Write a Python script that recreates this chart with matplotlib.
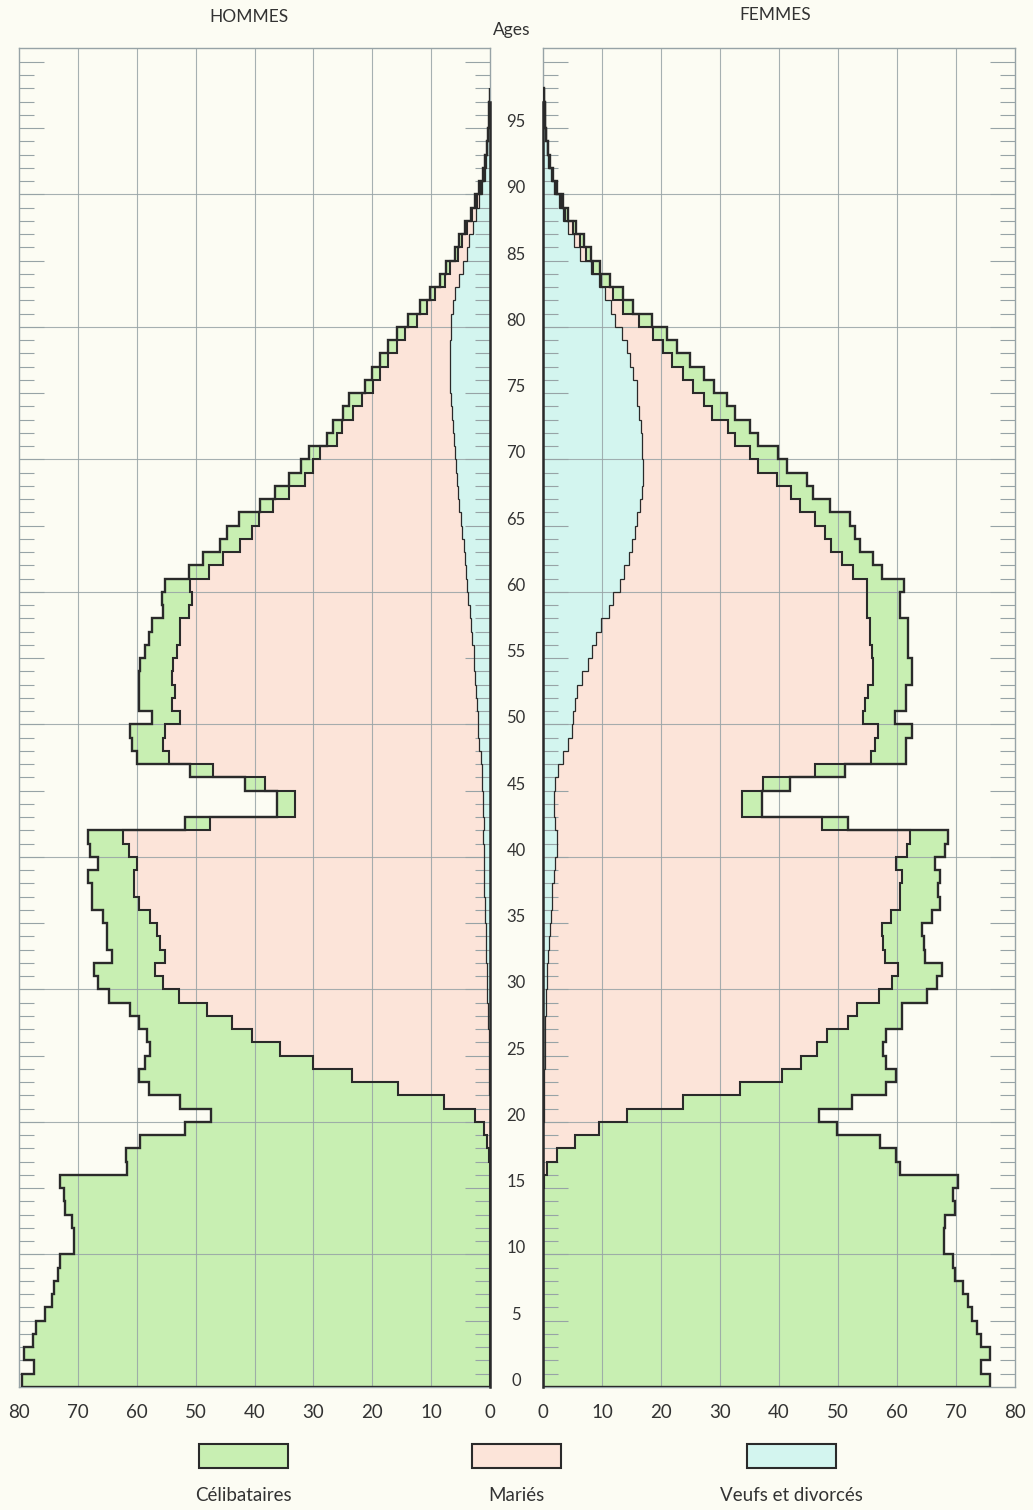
import numpy as np
import matplotlib.pyplot as plt
from matplotlib.patches import Rectangle
from matplotlib.transforms import blended_transform_factory

plt.rcParams['font.family'] = ['Lato', 'DejaVu Sans']

# Ages 0 .. 97 (one bar per year of age)
ages = np.arange(0, 99)

# HOMMES : limite extérieure (total), limite mariés+veufs, limite veufs
hommes_total = [
    79.5, 77.5, 79.1, 77.7, 77.1, 75.6, 74.4, 74.1, 73.3, 73.0,
    70.6, 70.7, 71.0, 72.2, 72.4, 73.1, 61.7, 61.8, 59.4, 51.8,
    47.4, 52.6, 58.0, 59.7, 58.6, 57.7, 58.3, 59.7, 61.1, 64.8,
    66.5, 67.2, 64.2, 65.1, 65.1, 65.7, 67.6, 67.6, 68.2, 66.5,
    67.9, 68.2, 51.8, 36.2, 36.2, 41.6, 50.9, 60.0, 60.8, 61.1,
    57.4, 59.7, 59.7, 59.7, 59.4, 58.6, 58.0, 57.4, 55.5, 55.7,
    55.2, 51.2, 48.7, 45.8, 44.7, 42.6, 39.0, 36.5, 34.2, 32.1,
    30.8, 27.7, 26.7, 25.0, 23.9, 21.2, 20.1, 18.7, 17.3, 15.8,
    13.9, 11.9, 10.2, 8.5, 7.4, 6.0, 5.2, 4.2, 3.3, 2.5,
    1.8, 1.2, 0.9, 0.6, 0.4, 0.25, 0.15, 0.08]
hommes_maries_veufs = [
    0, 0, 0, 0, 0, 0, 0, 0, 0, 0,
    0, 0, 0, 0, 0, 0, 0, 0.2, 0.6, 1.1,
    2.5, 7.9, 15.7, 23.5, 30.0, 35.7, 40.5, 43.9, 48.1, 52.9,
    55.5, 56.9, 55.2, 56.1, 56.6, 57.8, 59.7, 60.5, 60.5, 60.0,
    61.4, 62.3, 47.5, 33.1, 33.1, 38.2, 47.0, 54.6, 55.5, 55.2,
    52.6, 54.0, 53.5, 54.0, 53.8, 53.2, 52.6, 52.6, 51.2, 50.6,
    50.9, 47.8, 45.3, 42.4, 40.5, 39.3, 36.8, 34.2, 31.4, 30.0,
    28.9, 26.0, 25.2, 23.2, 21.8, 19.8, 18.7, 17.3, 15.8, 14.4,
    12.4, 10.7, 9.3, 7.6, 6.8, 5.5, 4.8, 3.9, 3.0, 2.3,
    1.6, 1.1, 0.8, 0.55, 0.35, 0.22, 0.13, 0.07]
hommes_veufs = [
    0, 0, 0, 0, 0, 0, 0, 0, 0, 0,
    0, 0, 0, 0, 0, 0, 0, 0.02, 0.03, 0.05,
    0.06, 0.08, 0.1, 0.12, 0.15, 0.2, 0.25, 0.3, 0.35, 0.45,
    0.55, 0.6, 0.65, 0.7, 0.75, 0.85, 0.9, 0.95, 1.0, 1.05,
    1.1, 1.15, 1.1, 1.2, 1.25, 1.35, 1.45, 1.6, 1.8, 2.0,
    2.1, 2.3, 2.4, 2.6, 2.7, 2.8, 3.0, 3.2, 3.4, 3.7,
    4.0, 4.1, 4.3, 4.5, 4.7, 5.0, 5.2, 5.4, 5.6, 5.8,
    6.0, 6.1, 6.3, 6.5, 6.6, 6.8, 6.8, 6.8, 6.8, 6.7,
    6.6, 6.3, 5.9, 5.3, 4.6, 4.0, 3.5, 2.9, 2.4, 1.8,
    1.3, 0.9, 0.65, 0.45, 0.3, 0.18, 0.1, 0.06]

# FEMMES
femmes_total = [
    75.8, 74.3, 75.8, 74.3, 73.5, 72.7, 72.1, 71.2, 69.8, 69.5,
    68.0, 68.0, 68.1, 69.8, 69.5, 70.4, 60.5, 59.9, 57.1, 49.8,
    46.8, 52.3, 58.2, 59.9, 58.2, 57.7, 58.2, 60.8, 60.8, 65.0,
    66.7, 67.6, 64.7, 64.5, 64.2, 65.9, 67.3, 67.0, 67.2, 66.4,
    68.1, 68.7, 51.7, 37.1, 37.1, 41.9, 51.2, 61.6, 61.6, 62.5,
    59.7, 61.6, 61.6, 62.5, 62.5, 61.9, 61.9, 61.9, 60.5, 60.5,
    61.1, 57.5, 56.0, 53.7, 52.9, 52.0, 48.6, 45.8, 44.7, 41.3,
    39.9, 36.5, 35.1, 32.5, 31.1, 28.9, 27.2, 24.9, 22.7, 21.0,
    18.4, 15.3, 13.6, 11.3, 9.7, 8.2, 7.0, 5.6, 4.2, 3.4,
    2.3, 1.7, 1.1, 0.85, 0.55, 0.4, 0.3, 0.15]
femmes_mariees_veuves = [
    0, 0, 0, 0, 0, 0, 0, 0, 0, 0,
    0, 0, 0, 0, 0, 0.1, 0.7, 2.3, 5.4, 9.4,
    14.3, 23.7, 33.4, 40.5, 43.8, 46.4, 48.1, 51.7, 53.2, 56.9,
    59.1, 60.2, 57.9, 57.7, 57.4, 58.9, 60.5, 60.5, 60.8, 59.9,
    61.7, 62.2, 47.2, 33.7, 33.7, 37.3, 46.1, 55.6, 56.3, 56.8,
    54.3, 54.6, 55.1, 56.0, 56.0, 55.7, 55.4, 55.4, 54.9, 54.9,
    54.9, 52.5, 50.6, 48.8, 47.8, 46.1, 43.6, 42.0, 39.6, 36.5,
    35.1, 32.5, 31.4, 28.6, 27.2, 25.5, 23.8, 21.8, 20.4, 18.6,
    16.2, 13.6, 11.9, 9.9, 8.5, 7.2, 6.2, 5.0, 3.8, 3.1,
    2.1, 1.55, 1.0, 0.78, 0.5, 0.37, 0.27, 0.14]
femmes_veuves = [
    0, 0, 0, 0, 0, 0, 0, 0, 0, 0,
    0, 0, 0, 0, 0, 0.01, 0.02, 0.03, 0.05, 0.07,
    0.1, 0.12, 0.15, 0.2, 0.25, 0.3, 0.35, 0.4, 0.45, 0.55,
    0.65, 0.75, 0.85, 1.0, 1.1, 1.3, 1.45, 1.6, 1.8, 2.0,
    2.3, 2.4, 2.0, 1.8, 1.8, 2.0, 2.6, 3.4, 4.3, 4.9,
    5.1, 5.4, 5.8, 6.6, 7.7, 8.3, 9.0, 9.9, 11.1, 11.9,
    13.1, 13.7, 14.5, 15.0, 15.6, 16.0, 16.4, 16.7, 16.9, 16.9,
    16.8, 16.7, 16.6, 16.3, 16.0, 15.9, 15.3, 14.7, 14.2, 13.3,
    12.2, 11.6, 10.5, 9.4, 8.2, 6.2, 5.3, 4.3, 3.3, 2.7,
    1.9, 1.4, 0.9, 0.7, 0.45, 0.33, 0.25, 0.12]

legend_labels = ['Célibataires', 'Mariés', 'Veufs et divorcés']
x_ticks = [0, 10, 20, 30, 40, 50, 60, 70, 80]

# couleurs
bg = '#fcfcf3'
green = '#c8efb2'
pink = '#fce4d9'
cyan = '#d3f5ef'
ink = '#2a2a2a'
gridc = '#97a3a6'
textc = '#333333'

fig = plt.figure(figsize=(10.33, 15.10), dpi=100, facecolor=bg)
ax_h = fig.add_axes([0.0184, 0.0815, 0.456, 0.8868])
ax_f = fig.add_axes([0.5257, 0.0815, 0.4569, 0.8868])


def draw_side(ax, total, non_celib, veufs):
    total = np.array(total)
    non_celib = np.array(non_celib)
    veufs = np.array(veufs)
    ax.set_facecolor(bg)
    # surfaces
    ax.stairs(veufs, ages, baseline=0, fill=True, orientation='horizontal',
              facecolor=cyan, linewidth=0, zorder=1)
    ax.stairs(non_celib, ages, baseline=veufs, fill=True, orientation='horizontal',
              facecolor=pink, linewidth=0, zorder=1)
    ax.stairs(total, ages, baseline=non_celib, fill=True, orientation='horizontal',
              facecolor=green, linewidth=0, zorder=1)
    # grille
    for v in range(10, 80, 10):
        ax.axvline(v, color=gridc, lw=0.8, alpha=0.85, zorder=2)
    for a in range(10, 100, 10):
        ax.axhline(a, color=gridc, lw=0.8, alpha=0.85, zorder=2)
    # contours
    ax.stairs(veufs, ages, baseline=None, orientation='horizontal',
              color=ink, lw=0.9, zorder=3)
    ax.stairs(non_celib, ages, baseline=None, orientation='horizontal',
              color=ink, lw=1.5, zorder=3)
    ax.stairs(total, ages, baseline=0, orientation='horizontal',
              color=ink, lw=1.7, zorder=3)
    ax.plot([0, 0], [0, 97], color=ink, lw=1.8, zorder=4, clip_on=False)

    ax.set_ylim(0, 101.05)
    ax.set_yticks(range(5, 101, 5))
    ax.set_yticks([a for a in range(1, 101) if a % 5], minor=True)
    ax.tick_params(axis='y', which='both', direction='in', left=True, right=True,
                   labelleft=False, labelright=False, color=gridc, width=0.8)
    ax.tick_params(axis='y', which='major', length=18)
    ax.tick_params(axis='y', which='minor', length=11)
    ax.set_xticks(x_ticks)
    ax.tick_params(axis='x', length=0, pad=12, labelsize=13.5, labelcolor=textc)
    for s in ax.spines.values():
        s.set_color(gridc)
        s.set_linewidth(1.0)


draw_side(ax_h, hommes_total, hommes_maries_veufs, hommes_veufs)
ax_h.set_xlim(80, 0)
draw_side(ax_f, femmes_total, femmes_mariees_veuves, femmes_veuves)
ax_f.set_xlim(0, 80)

# âges au centre
tr = blended_transform_factory(fig.transFigure, ax_h.transData)
for a in range(0, 100, 5):
    fig.text(0.4995, a + 0.45, str(a), transform=tr, ha='center', va='center',
             fontsize=12, color=textc)

fig.text(0.241, 0.9887, 'HOMMES', ha='center', va='center', fontsize=12.5, color=textc)
fig.text(0.750, 0.9900, 'FEMMES', ha='center', va='center', fontsize=12.5, color=textc)
fig.text(0.4956, 0.9800, 'Ages', ha='center', va='center', fontsize=12.5, color=textc)

# légende
legend_colors = [green, pink, cyan]
legend_x = [199 / 1033, 472 / 1033, 747 / 1033]
for lab, col, x0 in zip(legend_labels, legend_colors, legend_x):
    fig.add_artist(Rectangle((x0, 0.0278), 89 / 1033, 0.0159, transform=fig.transFigure,
                             facecolor=col, edgecolor=ink, lw=1.5))
    fig.text(x0 + 44.5 / 1033, 0.0099, lab, ha='center', va='center',
             fontsize=13.5, color=textc)

fig.savefig('out.png', dpi=100, facecolor=bg)
